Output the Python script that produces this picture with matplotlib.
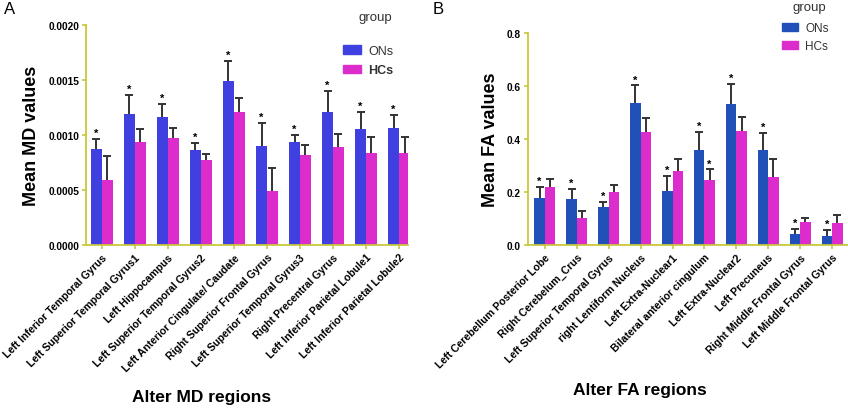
import numpy as np
import matplotlib
matplotlib.use("Agg")
from matplotlib import pyplot as plt
from matplotlib.patches import Patch

plt.rcParams['font.family'] = ['Liberation Sans', 'DejaVu Sans']

# Panel A data: mean MD values (mean, SD) for ONs and HCs
md_regions = ["Left Inferior Temporal Gyrus", "Left Superior Temporal Gyrus1",
              "Left Hippocampus", "Left Superior Temporal Gyrus2",
              "Left Anterior Cingulate/ Caudate", "Right Superior Frontal Gyrus",
              "Left Superior Temporal Gyrus3", "Right Precentral Gyrus",
              "Left Inferior Parietal Lobule1", "Left Inferior Parietal Lobule2"]
md_on = [0.00087, 0.00119, 0.00116, 0.00086, 0.00149, 0.00090, 0.00094, 0.00121, 0.00105, 0.00106]
md_on_sd = [0.00009, 0.00017, 0.00012, 0.00007, 0.00018, 0.00021, 0.00006, 0.00019, 0.00016, 0.00012]
md_hc = [0.00059, 0.00094, 0.00097, 0.00077, 0.00121, 0.00049, 0.00082, 0.00089, 0.00084, 0.00084]
md_hc_sd = [0.00022, 0.00011, 0.00009, 0.00006, 0.00013, 0.00021, 0.00009, 0.00012, 0.00014, 0.00014]
md_on_star = [True] * 10
md_hc_star = [False] * 10

# Panel B data: mean FA values
fa_regions = ["Left Cerebellum Posterior Lobe", "Right Cerebelum_Crus",
              "Left Superior Temporal Gyrus", "right Lentiform Nucleus",
              "Left Extra-Nuclear1", "Bilateral anterior cingulum",
              "Left Extra-Nuclear2", "Left Precuneus",
              "Right Middle Frontal Gyrus", "Left Middle Frontal Gyrus"]
fa_on = [0.176, 0.173, 0.145, 0.535, 0.202, 0.357, 0.532, 0.357, 0.043, 0.035]
fa_on_sd = [0.044, 0.037, 0.019, 0.067, 0.059, 0.071, 0.075, 0.065, 0.019, 0.022]
fa_hc = [0.220, 0.102, 0.199, 0.425, 0.280, 0.246, 0.431, 0.258, 0.086, 0.082]
fa_hc_sd = [0.028, 0.025, 0.028, 0.056, 0.046, 0.039, 0.053, 0.066, 0.017, 0.033]
fa_on_star = [True] * 10
fa_hc_star = [False, False, False, False, False, True, False, False, False, False]

axis_col = '#c8c83c'
err_col = '#333333'
hc_col = '#dc2ccc'


def draw_panel(ax, regions, on, on_sd, hc, hc_sd, on_star, hc_star, on_col,
               ymax, yfmt, ylabel, xlabel, xlim):
    x = np.arange(len(regions))
    w = 0.33
    for vals, sd, stars, col, off in [(on, on_sd, on_star, on_col, -w / 2),
                                      (hc, hc_sd, hc_star, hc_col, w / 2)]:
        vals = np.array(vals)
        sd = np.array(sd)
        ax.bar(x + off, vals, w, color=col, zorder=2)
        line, caps, bars = ax.errorbar(x + off, vals, yerr=[np.zeros_like(sd), sd],
                                       fmt='none', ecolor=err_col, elinewidth=1.4,
                                       capsize=3, capthick=1.4, zorder=3)
        caps[0].set_visible(False)
        for i, s in enumerate(stars):
            if s:
                ax.text(x[i] + off, vals[i] + sd[i] + ymax * 0.005, '*',
                        ha='center', va='bottom', fontsize=8, fontweight='bold')
    ax.set_xlim(*xlim)
    ax.set_ylim(0, ymax)
    ax.set_yticks(np.linspace(0, ymax, 5))
    ax.set_yticklabels([yfmt.format(v) for v in np.linspace(0, ymax, 5)],
                       fontsize=7.3, fontweight='bold')
    ax.set_xticks(x)
    ax.set_xticklabels(regions, rotation=45, ha='right', rotation_mode='anchor',
                       fontsize=7.6, fontweight='bold')
    for s in ['top', 'right']:
        ax.spines[s].set_visible(False)
    for s in ['left', 'bottom']:
        ax.spines[s].set_color(axis_col)
        ax.spines[s].set_linewidth(1.3)
    ax.tick_params(colors=axis_col, length=3, width=1.2, labelcolor='black', pad=2)
    ax.set_ylabel(ylabel, fontsize=13, fontweight='bold', labelpad=6)
    ax.set_xlabel(xlabel, fontsize=12.5, fontweight='bold')


fig = plt.figure(figsize=[8.48, 4.1], dpi=100)

axA = fig.add_axes([0.1014, 0.4, 0.3797, 0.5366])
draw_panel(axA, md_regions, md_on, md_on_sd, md_hc, md_hc_sd, md_on_star, md_hc_star,
           '#4040e0', 0.002, '{:.4f}', 'Mean MD values', 'Alter MD regions', (-0.48, 9.27))
axA.xaxis.set_label_coords(0.36, -0.655)

axB = fig.add_axes([0.6226, 0.4, 0.3774, 0.517])
draw_panel(axB, fa_regions, fa_on, fa_on_sd, fa_hc, fa_hc_sd, fa_on_star, fa_hc_star,
           '#2050b8', 0.8, '{:.1f}', 'Mean FA values', 'Alter FA regions', (-0.53, 9.5))
axB.xaxis.set_label_coords(0.35, -0.645)

# legends (title drawn separately)
for col, anchor, fs, sp, title_xy, bold_hc in [
        ('#4040e0', (0.4045, 0.888), 9, 0.6, (0.442, 0.956), True),
        ('#2050b8', (0.922, 0.944), 8.5, 0.5, (0.954, 0.98), False)]:
    handles = [Patch(color=col, label='ONs'), Patch(color=hc_col, label='HCs')]
    leg = fig.legend(handles=handles, loc='upper left', bbox_to_anchor=anchor,
                     frameon=False, fontsize=fs, borderpad=0, borderaxespad=0,
                     handlelength=1.4, handleheight=0.65,
                     labelspacing=sp, handletextpad=0.6)
    for t in leg.get_texts():
        t.set_color('#333333')
    if bold_hc:
        leg.get_texts()[1].set_fontweight('bold')
    fig.text(title_xy[0], title_xy[1], 'group', ha='center', va='center',
             fontsize=9.5, color='#333333')

fig.text(0.005, 0.965, 'A', fontsize=12)
fig.text(0.51, 0.965, 'B', fontsize=12)

fig.savefig('out.png', dpi=100)
